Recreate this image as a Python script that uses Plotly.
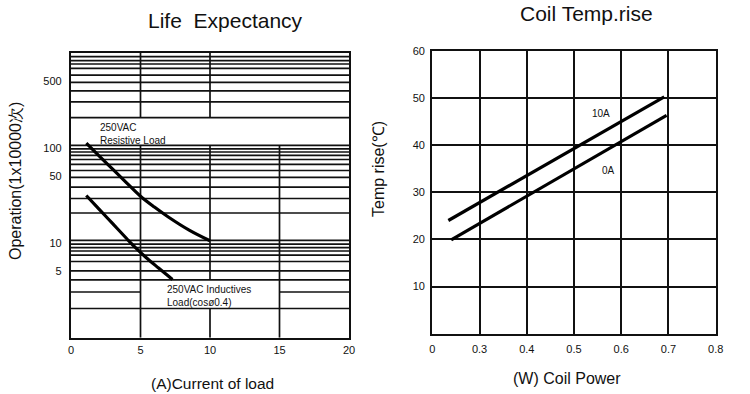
import plotly.graph_objects as go

# ---------------- Life Expectancy (left) ----------------
res_x = [1.1, 2.0, 3.0, 4.0, 5.0, 6.0, 7.0, 8.5, 10.0]
res_y = [112, 83, 59.6, 42.9, 31, 23.8, 18.7, 13.6, 10.5]
ind_x = [1.1, 2.0, 3.0, 4.0, 4.6, 5.4, 6.3, 7.3]
ind_y = [31.5, 22.8, 15.9, 11.1, 9.0, 7.0, 5.42, 4.11]

life_xtick_vals = [0, 5, 10, 15, 20]
life_xtick_text = ["0", "5", "10", "15", "20"]
life_ytick_vals = [5, 10, 50, 100, 500]
life_ytick_text = ["5", "10", "50", "100", "500"]

# horizontal grid lines as drawn in the sheet (full width)
life_hgrid_full = [914, 830, 766, 690, 586, 491, 398, 305, 208,
                   106.5, 97.6, 90.5, 83.4, 75.5, 66.9, 57.8, 48.8, 38.7, 29.3, 20.6,
                   10.6, 9.7, 8.9, 8.2, 7.4, 6.35, 5.05, 4.06, 2.03]
# horizontal grid line interrupted by the label
life_hgrid_split = [3.03]
life_hgrid_split_x = [(0, 5), (15, 20)]
# vertical grid lines with their drawn spans
life_vgrid_x = [5, 10, 15]
life_vgrid_spans = [
    [(1, 106.5), (208, 1000)],
    [(1, 2.03), (4.06, 106.5), (208, 1000)],
    [(1, 106.5)],
]

# ---------------- Coil Temp.rise (right) ----------------
coil_tick_vals = [0.2, 0.3, 0.4, 0.5, 0.6, 0.7, 0.8]
coil_tick_text = ["0", "0.3", "0.4", "0.5", "0.6", "0.7", "0.8"]
temp_tick_vals = [10, 20, 30, 40, 50, 60]
temp_tick_text = ["10", "20", "30", "40", "50", "60"]
line10_x = [0.234, 0.691]
line10_y = [24.0, 50.2]
line0_x = [0.240, 0.696]
line0_y = [19.9, 46.3]

FONT = "Liberation Sans, Arial, Helvetica, sans-serif"
BLACK = "#111111"

fig = go.Figure()

gx, gy = [], []
for v in life_hgrid_full:
    gx += [0, 20, None]
    gy += [v, v, None]
for v in life_hgrid_split:
    for a, b in life_hgrid_split_x:
        gx += [a, b, None]
        gy += [v, v, None]
for xv, spans in zip(life_vgrid_x, life_vgrid_spans):
    for a, b in spans:
        gx += [xv, xv, None]
        gy += [a, b, None]
fig.add_trace(go.Scatter(x=gx, y=gy, mode="lines", line=dict(color=BLACK, width=1.7),
                         hoverinfo="skip", showlegend=False, xaxis="x", yaxis="y"))

fig.add_trace(go.Scatter(x=res_x, y=res_y, mode="lines", line=dict(color="black", width=3.2, shape="spline"),
                         showlegend=False, xaxis="x", yaxis="y"))
fig.add_trace(go.Scatter(x=ind_x, y=ind_y, mode="lines", line=dict(color="black", width=3.2, shape="spline"),
                         showlegend=False, xaxis="x", yaxis="y"))

fig.add_trace(go.Scatter(x=line10_x, y=line10_y, mode="lines", line=dict(color="black", width=3.2),
                         showlegend=False, xaxis="x2", yaxis="y2"))
fig.add_trace(go.Scatter(x=line0_x, y=line0_y, mode="lines", line=dict(color="black", width=3.2),
                         showlegend=False, xaxis="x2", yaxis="y2"))

W, H = 750, 394
def px(x):
    return x / W
def py(y):
    return 1 - y / H

axis_common = dict(showline=True, mirror=True, linecolor=BLACK, linewidth=2.2, zeroline=False,
                   ticks="", automargin=False, tickfont=dict(family=FONT, size=11, color=BLACK))

fig.update_layout(
    width=W, height=H,
    margin=dict(l=0, r=0, t=0, b=0, autoexpand=False),
    paper_bgcolor="white", plot_bgcolor="white",
    showlegend=False,
    font=dict(family=FONT, color=BLACK),
    xaxis=dict(domain=[px(71), px(349)], range=[0, 20], anchor="y",
               tickmode="array", tickvals=life_xtick_vals, ticktext=life_xtick_text,
               showgrid=False, ticklabelstandoff=1, **axis_common),
    yaxis=dict(domain=[py(337.7), py(53)], type="log", range=[0, 3], anchor="x",
               tickmode="array", tickvals=life_ytick_vals, ticktext=life_ytick_text,
               showgrid=False, ticklabelstandoff=5, **axis_common),
    xaxis2=dict(domain=[px(432.3), px(715.7)], range=[0.2, 0.8], anchor="y2",
                tickmode="array", tickvals=coil_tick_vals, ticktext=coil_tick_text,
                showgrid=True, gridcolor=BLACK, gridwidth=1.7, ticklabelstandoff=4, **axis_common),
    yaxis2=dict(domain=[py(333.7), py(50.7)], range=[0, 60], anchor="x2",
                tickmode="array", tickvals=temp_tick_vals, ticktext=temp_tick_text,
                showgrid=True, gridcolor=BLACK, gridwidth=1.7, ticklabelstandoff=3, **axis_common),
)

ann = [
    dict(text="Life  Expectancy", x=px(225), y=py(20), size=21),
    dict(text="Coil Temp.rise", x=px(586.5), y=py(13.5), size=21),
    dict(text="(A)Current of load", x=px(213), y=py(383), size=15.5),
    dict(text="(W) Coil Power", x=px(566.7), y=py(378), size=16),
]
for a in ann:
    fig.add_annotation(text=a["text"], x=a["x"], y=a["y"], xref="paper", yref="paper",
                       xanchor="center", yanchor="middle", showarrow=False,
                       font=dict(family=FONT, size=a["size"], color=BLACK))

fig.add_annotation(text="Operation(1x10000次)", x=px(15), y=py(181), xref="paper", yref="paper",
                   textangle=-90, showarrow=False, xanchor="center", yanchor="middle",
                   font=dict(family=FONT, size=16, color=BLACK))
fig.add_annotation(text="Temp rise(℃)", x=px(378), y=py(169), xref="paper", yref="paper",
                   textangle=-90, showarrow=False, xanchor="center", yanchor="middle",
                   font=dict(family=FONT, size=16, color=BLACK))

small = [
    dict(text="250VAC<br>Resistive Load", x=px(98), y=py(134), xa="left"),
    dict(text="250VAC Inductives<br>Load(cosø0.4)", x=px(165), y=py(295.5), xa="left"),
    dict(text="10A", x=px(601), y=py(114), xa="center"),
    dict(text="0A", x=px(608.8), y=py(170), xa="center"),
]
for a in small:
    fig.add_annotation(text=a["text"], x=a["x"], y=a["y"], xref="paper", yref="paper",
                       xanchor=a["xa"], yanchor="middle", align="left", showarrow=False,
                       font=dict(family=FONT, size=10, color=BLACK))

post = (
    "document.body.style.margin='0';"
    "var d=document.getElementById('{plot_id}');"
    "d.style.position='fixed';d.style.left='0px';d.style.top='0px';"
)
fig.write_html("out.html", config={"displayModeBar": False}, post_script=post)
